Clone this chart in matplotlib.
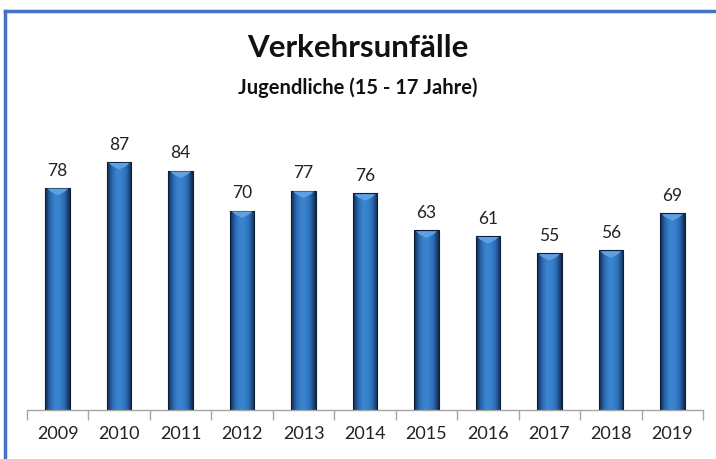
import numpy as np
import matplotlib
matplotlib.use("Agg")
import matplotlib.pyplot as plt
from matplotlib.lines import Line2D
from matplotlib.colors import LinearSegmentedColormap
from matplotlib.patches import Polygon

years = ["2009", "2010", "2011", "2012", "2013", "2014", "2015", "2016", "2017", "2018", "2019"]
values = [78, 87, 84, 70, 77, 76, 63, 61, 55, 56, 69]

plt.rcParams['font.family'] = ['Lato', 'DejaVu Sans']

W, H = 716, 459
fig = plt.figure(figsize=(W / 100, H / 100), dpi=100)

# axes: baseline at y=410 px, x from 27 to 703 px
ax = fig.add_axes([27 / W, (H - 410) / H, 676 / W, 300 / H])
ymax = 300 / 2.85

bar_w = 0.4
cmap = LinearSegmentedColormap.from_list(
    "bar", ["#10294a", "#2a68b0", "#3a84d0", "#3782cd", "#2a68b0", "#11294a"])
grad = np.linspace(0, 1, 64).reshape(1, -1)

bars = ax.bar(range(len(years)), values, width=bar_w, color="none",
              edgecolor="#0d1f38", linewidth=0.8, zorder=3)
for i, (b, v) in enumerate(zip(bars, values)):
    x0 = b.get_x()
    im = ax.imshow(grad, extent=[x0, x0 + bar_w, 0, v], cmap=cmap,
                   aspect="auto", zorder=2, interpolation="bicubic")
    im.set_clip_path(b)
    # light bevel at the top of each bar
    ax.add_patch(Polygon([[x0 + 0.03, v - 0.3], [x0 + bar_w - 0.03, v - 0.3],
                          [x0 + bar_w * 0.78, v - 1.4], [x0 + bar_w * 0.5, v - 2.6],
                          [x0 + bar_w * 0.22, v - 1.4]],
                         closed=True, color="#5f9fe2", zorder=4, lw=0))
    ax.text(i, v + 3.2, str(v), ha="center", va="bottom", fontsize=12.5,
            color="#222222")

ax.set_xlim(-0.5, len(years) - 0.5)
ax.set_ylim(0, ymax)

for s in ["top", "right", "left"]:
    ax.spines[s].set_visible(False)
ax.spines["bottom"].set_color("#a6a6a6")
ax.spines["bottom"].set_linewidth(1.0)
ax.set_yticks([])
ax.set_xticks(np.arange(-0.5, len(years), 1.0))
ax.set_xticklabels([])
ax.tick_params(axis="x", length=7, color="#a6a6a6", width=1.0)
for i, y in enumerate(years):
    ax.text(i, -8.5, y, ha="center", va="center", fontsize=13,
            color="#222222")

fig.text(0.5, 1 - 48 / H, "Verkehrsunfälle", ha="center", va="center",
         fontsize=22.5, fontweight="bold", color="#111111")
fig.text(0.5, 1 - 88 / H, "Jugendliche (15 - 17 Jahre)", ha="center",
         va="center", fontsize=14.5, fontweight="bold", color="#111111")

# blue frame at the top and the left
fig.add_artist(Line2D([5 / W, 1], [1 - 11 / H, 1 - 11 / H], color="#4472c4",
                      lw=2.5, transform=fig.transFigure))
fig.add_artist(Line2D([5 / W, 5 / W], [0, 1 - 11 / H], color="#4472c4",
                      lw=2.5, transform=fig.transFigure))

fig.savefig("out.png", dpi=100)
